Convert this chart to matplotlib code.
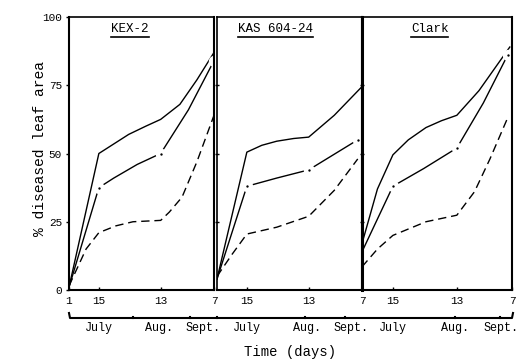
import numpy as np
import matplotlib.pyplot as plt
from matplotlib.lines import Line2D

plt.rcParams['font.family'] = ['Liberation Mono', 'DejaVu Sans Mono']

# cultivars, one panel each
varieties = ['KEX-2', 'KAS 604-24', 'Clark']

# days after July 1 (July 1, July 15, Aug 13, Sept 7)
tick_days = [0, 14, 43, 68]
tick_text = ['1', '15', '13', '7']
month_days = [14, 42, 63]
month_text = ['July', 'Aug.', 'Sept.']

# upper solid curve
solid_days = [[0, 14, 22, 28, 36, 43, 52, 60, 68],
              [0, 14, 21, 28, 36, 43, 55, 68],
              [0, 7, 14, 21, 29, 36, 43, 53, 67]]
solid_vals = [[1, 50, 54, 57, 60, 62.5, 68, 77, 87],
              [4, 50.5, 53, 54.5, 55.5, 56, 64, 74.5],
              [17, 37, 49.5, 55, 59.5, 62, 64, 73, 89]]

# middle curve with sampled points
mid_days = [[0, 14, 21, 32, 43, 56, 68],
            [0, 14, 28, 43, 66],
            [0, 14, 28, 43, 55, 66]]
mid_vals = [[1, 37.5, 41, 46, 50, 66, 84],
            [4, 38, 41, 44, 55],
            [14, 38, 44.5, 52, 68.5, 86]]
mid_pts = [[1, 4, 6], [1, 3, 4], [1, 3, 5]]

# lower dashed curve
dash_days = [[0, 8, 14, 22, 30, 43, 47, 53, 60, 68],
             [0, 7, 14, 28, 43, 55, 66],
             [0, 7, 14, 29, 43, 51, 58, 66]]
dash_vals = [[1.5, 15, 21, 23.5, 25, 25.5, 28.5, 34, 47, 64],
             [5, 13, 20.5, 23, 27, 36.5, 48],
             [8.5, 15, 20, 25, 27.4, 36, 48, 63]]

W, H = 519, 360
fig = plt.figure(figsize=(W / 100, H / 100), dpi=100)

# panel edges in pixels
edges = [(69, 214), (217, 362), (362, 512)]
top_px, bot_px = 17, 290
title_x = [0.42, 0.40, 0.45]

axes = []
for i, (x0, x1) in enumerate(edges):
    ax = fig.add_axes([x0 / W, 1 - bot_px / H, (x1 - x0) / W, (bot_px - top_px) / H])
    axes.append(ax)
    ax.plot(solid_days[i], solid_vals[i], color='k', lw=1.0)
    ax.plot(mid_days[i], mid_vals[i], color='k', lw=1.0, marker='o', ms=5,
            mfc='k', mec='white', mew=3.2, markevery=mid_pts[i])
    ax.plot(dash_days[i], dash_vals[i], color='k', lw=1.0, dashes=(6, 3.5))
    ax.set_xlim(0, 68)
    ax.set_ylim(0, 100)
    for s in ax.spines.values():
        s.set_linewidth(1.5)
    ax.spines['top'].set_linewidth(1.2)
    if i == 0:
        ax.set_xticks(tick_days)
        ax.set_xticklabels(tick_text)
        ax.set_yticks([0, 25, 50, 75, 100])
        ax.set_yticklabels(['0', '25', '50', '75', '100'])
        ax.tick_params(axis='y', direction='out', length=2, width=1, pad=3, labelsize=8)
    else:
        ax.set_xticks(tick_days[1:])
        ax.set_xticklabels(tick_text[1:])
        ax.set_yticks([25, 50, 75])
        ax.tick_params(axis='y', direction='inout', length=3, width=1, labelleft=False)
    if i == 1:
        ax.spines['left'].set_linewidth(1.2)
    if i == 2:
        ax.spines['left'].set_linewidth(2.2)
    ax.tick_params(axis='x', direction='in', length=2, width=1, pad=4, labelsize=8)
    for d, m in zip(month_days, month_text):
        ax.text(d, -0.14, m, transform=ax.get_xaxis_transform(),
                ha='center', va='center', fontsize=8.5)
    ax.text(title_x[i], 0.955, varieties[i], transform=ax.transAxes,
            ha='center', va='center', fontsize=9)

# underline the panel titles
fig.canvas.draw()
r = fig.canvas.get_renderer()
for ax in axes:
    t = ax.texts[-1]
    bb = t.get_window_extent(r)
    y = bb.y0 - 1.5
    fig.add_artist(Line2D([bb.x0 / W, bb.x1 / W], [y / H, y / H],
                          color='k', lw=1.2))

# month bracket under the time axis
by = 1 - 318 / H
fig.add_artist(Line2D([69 / W, 70 / W, 512 / W, 513 / W],
                      [by + 5 / H, by, by, by + 5 / H], color='k', lw=1.5))
for bx in [133, 190, 217, 305, 345, 455, 500]:
    fig.add_artist(Line2D([bx / W, bx / W], [by, by + 1.5 / H], color='k', lw=1.5))

fig.text(290 / W, 1 - 352 / H, 'Time (days)', ha='center', va='center', fontsize=10)
fig.text(40 / W, 1 - 148 / H, '% diseased leaf area', rotation=90,
         ha='center', va='center', fontsize=10.5)

fig.savefig('out.png', dpi=100)
